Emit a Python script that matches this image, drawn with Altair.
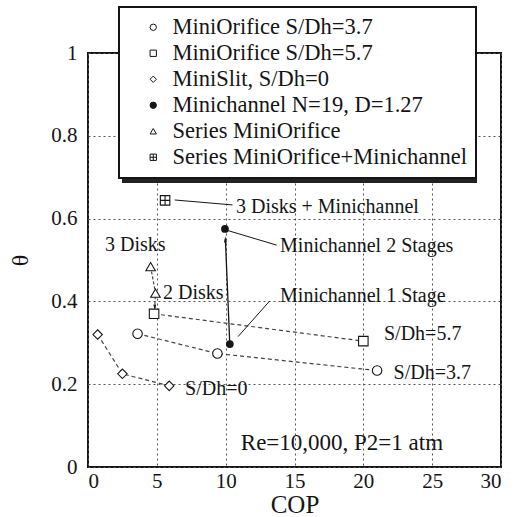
import altair as alt
import pandas as pd

# ---- measured data (COP vs. theta) ----
series_names = [
    "MiniOrifice S/Dh=3.7",
    "MiniOrifice S/Dh=5.7",
    "MiniSlit, S/Dh=0",
    "Minichannel N=19, D=1.27",
    "Series MiniOrifice",
    "Series MiniOrifice+Minichannel",
]
orifice37_cop = [3.6, 9.4, 21.0]
orifice37_theta = [0.322, 0.274, 0.233]
orifice57_cop = [4.8, 20.0]
orifice57_theta = [0.370, 0.304]
slit_cop = [0.7, 2.5, 5.9]
slit_theta = [0.320, 0.225, 0.196]
minichannel_cop = [10.3, 9.95]
minichannel_theta = [0.297, 0.575]
series_orifice_cop = [4.55, 4.9]
series_orifice_theta = [0.484, 0.420]
combo_cop = [5.6]
combo_theta = [0.644]

x_ticks = [0, 5, 10, 15, 20, 25, 30]
y_ticks = [0, 0.2, 0.4, 0.6, 0.8, 1]

# annotation text and its anchor (COP, theta)
note_text = ["3 Disks + Minichannel", "Minichannel 2 Stages", "Minichannel 1 Stage",
             "3 Disks", "2 Disks", "S/Dh=5.7", "S/Dh=3.7", "S/Dh=0"]
note_cop = [10.75, 13.95, 13.95, 1.23, 5.45, 21.5, 22.2, 7.05]
note_theta = [0.627, 0.534, 0.412, 0.537, 0.421, 0.322, 0.227, 0.189]

condition_text = ["Re=10,000, P2=1 atm"]
condition_cop = [11.1]
condition_theta = [0.058]

# leader lines from points to their labels
leader_cop = [6.3, 10.07, 10.9]
leader_theta = [0.645, 0.572, 0.315]
leader_cop2 = [10.5, 13.7, 13.17]
leader_theta2 = [0.633, 0.536, 0.40]

# staging arrows
disk_arrow_cop = [4.55, 4.9, 4.85]
disk_arrow_theta = [0.484, 0.420, 0.385]
stage_arrow_cop = [10.3, 9.98]
stage_arrow_theta = [0.297, 0.55]

FONT = "Liberation Serif"
INK = "#151515"

plus_square = "M-1,-1H1V1H-1Z M0,-1V1 M-1,0H1"
shapes = ["circle", "square", "diamond", "circle", "triangle-up", plus_square]
fills = ["white", "white", "white", INK, "white", "white"]

groups = [
    (orifice37_cop, orifice37_theta),
    (orifice57_cop, orifice57_theta),
    (slit_cop, slit_theta),
    (minichannel_cop, minichannel_theta),
    (series_orifice_cop, series_orifice_theta),
    (combo_cop, combo_theta),
]
rows = []
for name, (cx, cy) in zip(series_names, groups):
    for a, b in zip(cx, cy):
        rows.append({"series": name, "cop": a, "theta": b})
points = pd.DataFrame(rows)

xscale = alt.Scale(domain=[0, 30], nice=False)
yscale = alt.Scale(domain=[0, 1], nice=False)

x_enc = alt.X("cop:Q", scale=xscale, title="COP",
              axis=alt.Axis(values=x_ticks, format="~g"))
y_enc = alt.Y("theta:Q", scale=yscale, title="θ",
              axis=alt.Axis(values=y_ticks, format="~g"))

dashed_sets = points[points["series"].isin(series_names[:3])]
lines = alt.Chart(dashed_sets).mark_line(
    strokeDash=[4, 3], color="#444", strokeWidth=1.2
).encode(x=x_enc, y=y_enc, detail="series:N", order="cop:Q")

disk_arrow = alt.Chart(pd.DataFrame({
    "cop": disk_arrow_cop, "theta": disk_arrow_theta, "k": range(len(disk_arrow_cop))
})).mark_line(strokeDash=[3, 2], color="#444", strokeWidth=1.2).encode(
    x="cop:Q", y="theta:Q", order="k:Q")

stage_arrow = alt.Chart(pd.DataFrame({
    "cop": stage_arrow_cop, "theta": stage_arrow_theta, "k": [0, 1]
})).mark_line(color=INK, strokeWidth=1.3).encode(
    x="cop:Q", y="theta:Q", order="k:Q")

heads = alt.Chart(pd.DataFrame({
    "cop": [stage_arrow_cop[1], disk_arrow_cop[2]],
    "theta": [stage_arrow_theta[1], disk_arrow_theta[2]],
    "dir": [0, 180],
})).mark_point(shape="M0,-1L0.45,1L-0.45,1Z", filled=True, color=INK, size=40,
               opacity=1).encode(x="cop:Q", y="theta:Q", angle=alt.Angle("dir:Q", scale=None))

leaders = alt.Chart(pd.DataFrame({
    "cop": leader_cop, "theta": leader_theta,
    "cop2": leader_cop2, "theta2": leader_theta2,
})).mark_rule(color=INK, strokeWidth=1).encode(
    x="cop:Q", y="theta:Q", x2="cop2:Q", y2="theta2:Q")

# drop shadow under the legend box
legend_shadow = alt.Chart(pd.DataFrame({"k": [0]})).mark_rect(
    color="#222", opacity=1
).encode(x=alt.value(34), x2=alt.value(389), y=alt.value(-43), y2=alt.value(130))

# open markers (carry the legend for every series)
open_pts = points[points["series"] != series_names[3]]
markers = alt.Chart(open_pts).mark_point(
    size=90, stroke=INK, strokeWidth=1.1, opacity=1
).encode(
    x=x_enc, y=y_enc,
    shape=alt.Shape("series:N", scale=alt.Scale(domain=series_names, range=shapes)),
    fill=alt.Fill("series:N", scale=alt.Scale(domain=series_names, range=fills),
                  legend=alt.Legend(
                      title=None, orient="none", legendX=31, legendY=-46,
                      fillColor="white", strokeColor=INK,
                      padding=9, symbolOffset=14, labelOffset=8,
                      labelFont=FONT, labelFontSize=22.5, labelColor=INK,
                      labelLimit=400, rowPadding=3, symbolSize=40,
                      symbolStrokeColor=INK, symbolStrokeWidth=1,
                  )),
)

# solid dots of the minichannel runs
dots = alt.Chart(points[points["series"] == series_names[3]]).mark_point(
    shape="circle", filled=True, size=60, color=INK, opacity=1
).encode(x="cop:Q", y="theta:Q")

notes = alt.Chart(pd.DataFrame({
    "text": note_text, "cop": note_cop, "theta": note_theta
})).mark_text(align="left", baseline="middle", font=FONT, fontSize=20,
              color=INK).encode(x="cop:Q", y="theta:Q", text="text:N")

condition = alt.Chart(pd.DataFrame({
    "text": condition_text, "cop": condition_cop, "theta": condition_theta
})).mark_text(align="left", baseline="middle", font=FONT, fontSize=23,
              color=INK).encode(x="cop:Q", y="theta:Q", text="text:N")

chart = alt.layer(
    lines, disk_arrow, stage_arrow, leaders, heads, markers, dots, notes,
    condition, legend_shadow
).properties(
    width=413, height=414,
    padding={"left": 88, "top": 53, "right": 16, "bottom": 50},
    autosize=alt.AutoSizeParams(type="none"),
    background="white",
).configure_view(
    stroke=INK, strokeWidth=2, fill="white"
).configure_legend(
    strokeWidth=2, labelFont=FONT, labelFontSize=22.5, labelColor=INK,
).configure_axis(
    grid=True, gridColor="#555", gridDash=[2, 3], gridWidth=1,
    domain=False, ticks=False,
    labelFont=FONT, labelFontSize=21, labelColor=INK,
    titleFont=FONT, titleFontWeight="normal", titleColor=INK,
).configure_axisX(
    titleFontSize=25, titlePadding=1, labelPadding=3,
).configure_axisY(
    titleFontSize=24, titlePadding=18, labelPadding=11,
)

chart.save("out.html", embed_options={"renderer": "svg", "actions": False})
